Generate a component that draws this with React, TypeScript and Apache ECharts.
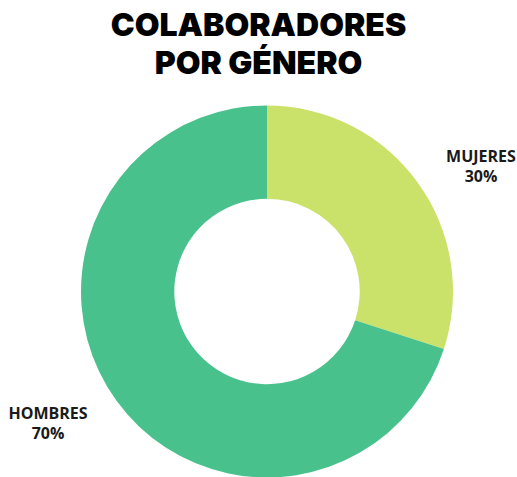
import React, { useEffect, useRef } from "react";
import * as echarts from "echarts";

const titleLines = ["COLABORADORES", "POR GÉNERO"];
const categories = ["MUJERES", "HOMBRES"];
const values = [30, 70];
const colors = ["#CBE26A", "#49C18D"];

export default function App() {
  const ref = useRef<HTMLDivElement>(null);
  useEffect(() => {
    if (!ref.current) return;
    const chart = echarts.init(ref.current, undefined, { renderer: "svg" });
    const labelAnchors = [
      { x: 481, y: 166 },
      { x: 48, y: 423 },
    ];
    chart.setOption({
      animation: false,
      backgroundColor: "#ffffff",
      title: {
        text: titleLines.join("\n"),
        left: "center",
        top: 0,
        textStyle: {
          fontFamily: "Inter",
          fontWeight: 900,
          fontSize: 32,
          lineHeight: 38,
          color: "#000000",
        },
      },
      series: [
        {
          type: "pie",
          center: [267, 291.5],
          radius: [92.7, 186],
          startAngle: 90,
          clockwise: true,
          silent: true,
          data: categories.map((c, i) => ({
            name: c,
            value: values[i],
            itemStyle: { color: colors[i] },
          })),
          label: {
            show: true,
            position: "outside",
            alignTo: "none",
            overflow: "none",
            width: 120,
            formatter: (p: any) => `${p.name}\n${Math.round(p.percent)}%`,
            fontFamily: "Open Sans",
            fontWeight: "bold",
            fontSize: 16,
            lineHeight: 20,
            color: "#1a1a1a",
            align: "center",
          },
          labelLine: { show: false },
          labelLayout: (params: any) => {
            const a = labelAnchors[params.dataIndex];
            return {
              x: a.x,
              y: a.y,
              align: "center",
              verticalAlign: "middle",
            };
          },
        },
      ],
    });
    return () => chart.dispose();
  }, []);
  return (
    <div
      ref={ref}
      style={{ position: "fixed", left: 0, top: 0, width: 517, height: 477 }}
    />
  );
}
